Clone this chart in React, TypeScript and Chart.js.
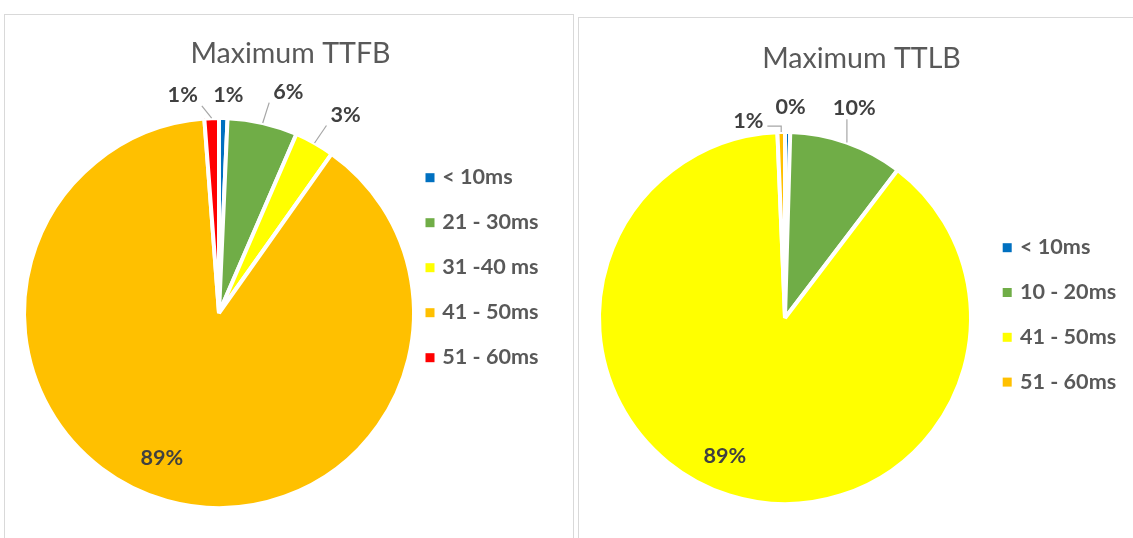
import React, { useEffect, useRef } from "react";
import { Chart, registerables } from "chart.js";

Chart.register(...registerables);

// ---------- data ----------
const ttfbTitle = "Maximum TTFB";
const ttfbCategories = ["< 10ms", "21 - 30ms", "31 -40 ms", "41 - 50ms", "51 - 60ms"];
const ttfbValues = [0.7, 5.8, 3.3, 89.0, 1.2];
const ttfbColors = ["#0070C0", "#70AD47", "#FFFF00", "#FFC000", "#FF0000"];

const ttlbTitle = "Maximum TTLB";
const ttlbCategories = ["< 10ms", "10 - 20ms", "41 - 50ms", "51 - 60ms"];
const ttlbValues = [0.45, 9.9, 89.0, 0.65];
const ttlbColors = ["#0070C0", "#70AD47", "#FFFF00", "#FFC000"];

// ---------- label placement (style) ----------
// offsets in px from the slice's outer edge at its mid-angle (or from 0.8r for inside labels)
const ttfbLabelOffsets = [[5, -26], [26, -34], [32, -31], [-16, -5], [-29, -26]];
const ttfbLabelInside = [false, false, false, true, false];
const ttfbLeaders = [false, true, true, false, true];

const ttlbLabelOffsets = [[3, -28], [8, -37], [-16, -3], [-33, -14]];
const ttlbLabelInside = [false, false, true, false];
const ttlbLeaders = [false, true, false, true];

type Cfg = {
  title: string;
  titleX: number;
  titleY: number;
  legendMarkerX: number;
  legendTextX: number;
  legendFirstY: number;
  legendStep: number;
  offsets: number[][];
  inside: boolean[];
  leaders: boolean[];
};

const BORDER = 4;
const LABEL_FONT = "bold 21.6px Lato";
const CAP = 15.5;

function makePlugin(cfg: Cfg) {
  return {
    id: "pieExtras",
    afterDatasetsDraw(chart: any) {
      const ctx = chart.ctx as CanvasRenderingContext2D;
      const meta = chart.getDatasetMeta(0);
      const data = chart.data.datasets[0].data as number[];
      const total = data.reduce((a, b) => a + b, 0);
      ctx.save();
      ctx.font = LABEL_FONT;
      meta.data.forEach((arc: any, i: number) => {
        const p = arc.getProps(["x", "y", "startAngle", "endAngle", "outerRadius"], true);
        const mid = (p.startAngle + p.endAngle) / 2;
        const r = p.outerRadius - BORDER / 2;
        const baseR = cfg.inside[i] ? r * 0.8 : r;
        const bx = p.x + Math.cos(mid) * baseR;
        const by = p.y + Math.sin(mid) * baseR;
        const lx = bx + cfg.offsets[i][0];
        const ly = by + cfg.offsets[i][1];
        const text = Math.round((data[i] / total) * 100) + "%";
        const w = ctx.measureText(text).width;
        if (cfg.leaders[i]) {
          const ex = p.x + Math.cos(mid) * (r + 2);
          const ey = p.y + Math.sin(mid) * (r + 2);
          const pad = 4;
          const x0 = lx - w / 2 - pad, x1 = lx + w / 2 + pad;
          const y0 = ly - CAP / 2 - pad, y1 = ly + CAP / 2 + pad;
          ctx.strokeStyle = "#A6A6A6";
          ctx.lineWidth = 1.2;
          ctx.beginPath();
          if (Math.abs(ey - ly) < 20) {
            const sx = ex > lx ? x1 : x0;
            const hy = ly + 6;
            ctx.moveTo(sx, hy);
            ctx.lineTo(ex, hy);
            ctx.lineTo(ex, ey);
          } else {
            const sx = Math.min(Math.max(ex, x0), x1);
            const sy = Math.min(Math.max(ey, y0), y1);
            ctx.moveTo(sx, sy);
            ctx.lineTo(ex, ey);
          }
          ctx.stroke();
        }
        ctx.fillStyle = "#404040";
        ctx.textAlign = "center";
        ctx.textBaseline = "alphabetic";
        ctx.fillText(text, lx, ly + CAP / 2);
      });
      ctx.restore();
    },
    afterDraw(chart: any) {
      const ctx = chart.ctx as CanvasRenderingContext2D;
      ctx.save();
      // title
      ctx.font = "28.6px Lato";
      ctx.fillStyle = "#595959";
      ctx.textAlign = "center";
      ctx.textBaseline = "alphabetic";
      ctx.fillText(cfg.title, cfg.titleX, cfg.titleY);
      // legend
      const labels = chart.data.labels as string[];
      const colors = chart.data.datasets[0].backgroundColor as string[];
      ctx.font = LABEL_FONT;
      ctx.textAlign = "left";
      labels.forEach((lab, i) => {
        const cy = cfg.legendFirstY + i * cfg.legendStep;
        ctx.fillStyle = colors[i];
        ctx.fillRect(cfg.legendMarkerX, cy - 3.5, 9, 9);
        ctx.fillStyle = "#595959";
        ctx.fillText(lab, cfg.legendTextX, cy + CAP / 2);
      });
      ctx.restore();
    },
  };
}

function PieCanvas(props: {
  width: number;
  height: number;
  labels: string[];
  values: number[];
  colors: string[];
  radius: number;
  padding: { left: number; right: number; top: number; bottom: number };
  cfg: Cfg;
}) {
  const ref = useRef<HTMLCanvasElement | null>(null);
  useEffect(() => {
    if (!ref.current) return;
    const chart = new Chart(ref.current, {
      type: "pie",
      data: {
        labels: props.labels,
        datasets: [
          {
            data: props.values,
            backgroundColor: props.colors,
            borderColor: "#FFFFFF",
            borderWidth: BORDER,
          },
        ],
      },
      options: {
        responsive: false,
        animation: false,
        devicePixelRatio: 1,
        events: [],
        radius: props.radius,
        layout: { padding: props.padding },
        plugins: {
          legend: { display: false },
          title: { display: false },
          tooltip: { enabled: false },
        },
      } as any,
      plugins: [makePlugin(props.cfg)],
    });
    return () => chart.destroy();
  }, []);
  return (
    <canvas
      ref={ref}
      width={props.width}
      height={props.height}
      style={{ display: "block", width: props.width, height: props.height }}
    />
  );
}

export default function App() {
  return (
    <div
      style={{
        position: "fixed",
        left: 0,
        top: 0,
        width: 1133,
        height: 538,
        overflow: "hidden",
        background: "#FFFFFF",
      }}
    >
      <div
        style={{
          position: "absolute",
          left: 4,
          top: 14,
          width: 568,
          height: 600,
          border: "1px solid #D9D9D9",
          background: "#FFFFFF",
        }}
      >
        <PieCanvas
          width={568}
          height={523}
          labels={ttfbCategories}
          values={ttfbValues}
          colors={ttfbColors}
          radius={195}
          padding={{ left: 10, right: 150, top: 83, bottom: 10 }}
          cfg={{
            title: ttfbTitle,
            titleX: 285.5,
            titleY: 48.3,
            legendMarkerX: 420.5,
            legendTextX: 437.3,
            legendFirstY: 161.7,
            legendStep: 45,
            offsets: ttfbLabelOffsets,
            inside: ttfbLabelInside,
            leaders: ttfbLeaders,
          }}
        />
      </div>
      <div
        style={{
          position: "absolute",
          left: 578,
          top: 17,
          width: 600,
          height: 600,
          border: "1px solid #D9D9D9",
          background: "#FFFFFF",
        }}
      >
        <PieCanvas
          width={554}
          height={520}
          labels={ttlbCategories}
          values={ttlbValues}
          colors={ttlbColors}
          radius={186}
          padding={{ left: 10, right: 152, top: 90, bottom: 10 }}
          cfg={{
            title: ttlbTitle,
            titleX: 282.5,
            titleY: 49.5,
            legendMarkerX: 423.7,
            legendTextX: 441,
            legendFirstY: 228.7,
            legendStep: 44.8,
            offsets: ttlbLabelOffsets,
            inside: ttlbLabelInside,
            leaders: ttlbLeaders,
          }}
        />
      </div>
    </div>
  );
}
